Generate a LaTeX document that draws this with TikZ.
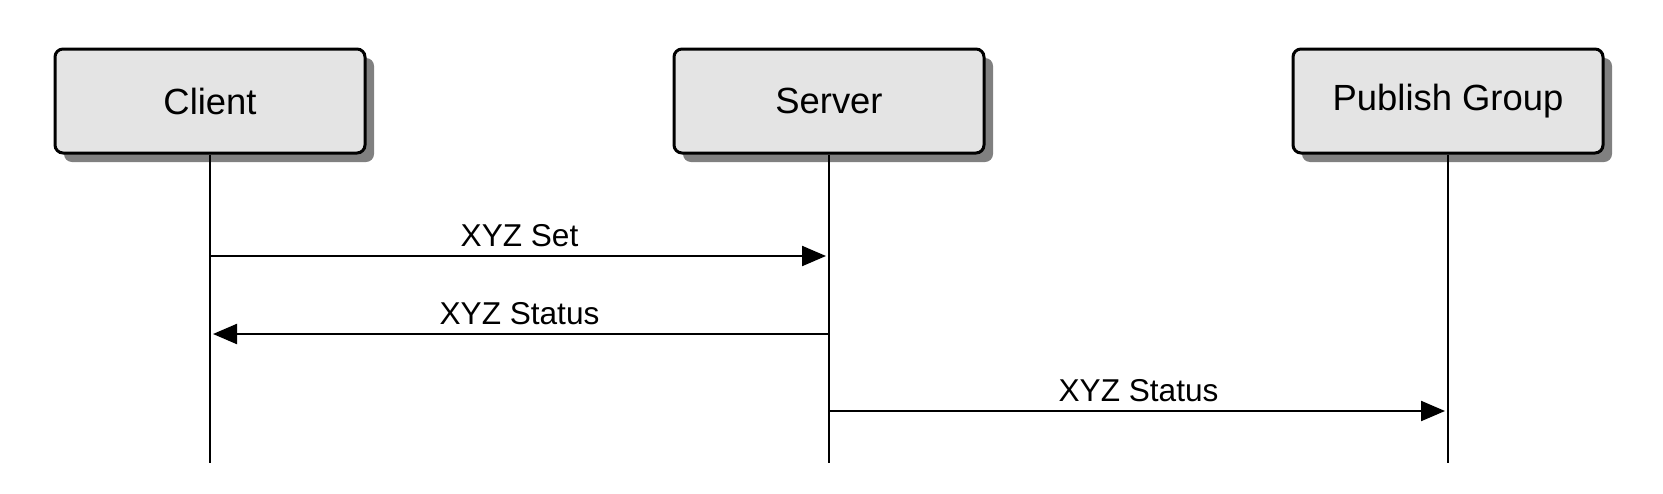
\documentclass[tikz,border=0pt]{standalone}
\usepackage{fontspec}
\setmainfont{Liberation Sans}
\usepackage{xcolor}
\usetikzlibrary{arrows.meta, positioning, shadows}
\definecolor{boxfill}{HTML}{E4E4E4}
\definecolor{shadowgray}{HTML}{808080}
\tikzset{
  actor/.style={draw, line width=1.5pt, rounded corners=4pt, fill=boxfill,
    minimum width=155pt, minimum height=52pt, font=\fontsize{18.2}{22}\selectfont,
    drop shadow={shadow xshift=4.5pt, shadow yshift=-4.5pt, fill=shadowgray, opacity=1}},
  msg/.style={line width=1.1pt, -{Triangle[length=12pt, width=10pt]}, shorten >=1.5pt},
  lbl/.style={font=\fontsize{15.8}{19}\selectfont, above, inner sep=4pt}
}
\begin{document}
\begin{tikzpicture}[x=0.5pt, y=-0.5pt]
  \useasboundingbox (0,0) rectangle (1663,493);

  % Participants and lifelines
  \foreach \name/\x/\txt in {client/210/Client, server/829/Server, pub/1448/Publish Group} {
    \node[actor] (\name) at (\x,101) {\txt};
    \coordinate (\name-end) at (\x,463);
    \draw[line width=1.1pt] (\name) -- (\name-end);
  }

  % Messages
  \coordinate (c1) at (210,256);
  \coordinate (s1) at (829,256);
  \coordinate (c2) at (210,334);
  \coordinate (s2) at (829,334);
  \coordinate (s3) at (829,411);
  \coordinate (p3) at (1448,411);

  \draw[msg] (c1) -- (s1) node[midway, lbl] {XYZ Set};
  \draw[msg] (s2) -- (c2) node[midway, lbl] {XYZ Status};
  \draw[msg] (s3) -- (p3) node[midway, lbl] {XYZ Status};
\end{tikzpicture}
\end{document}
